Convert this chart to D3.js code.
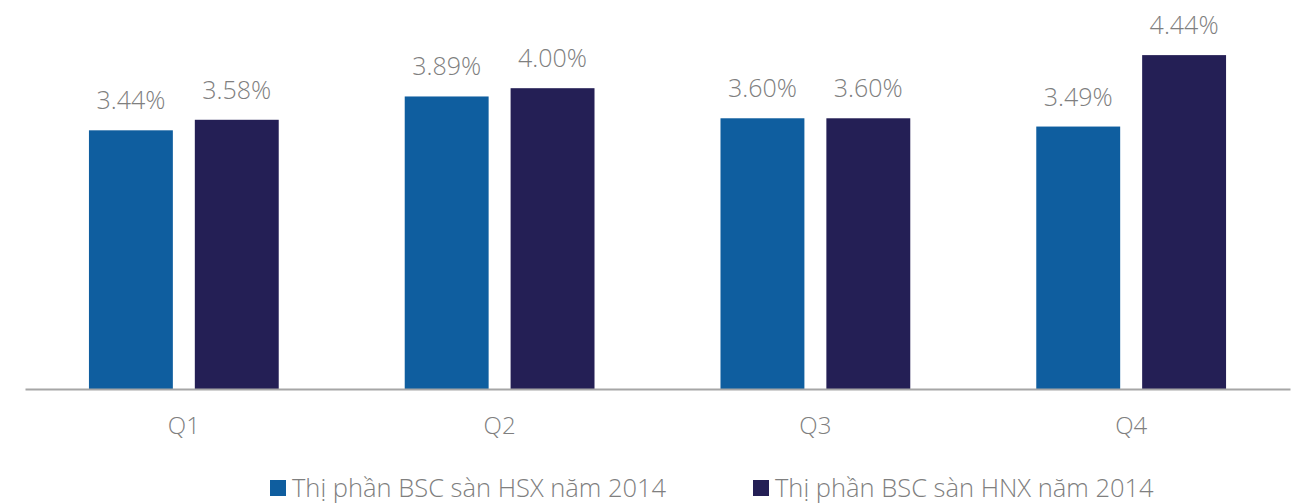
<!DOCTYPE html>
<html>
<head>
<meta charset="utf-8">
<script src="https://cdn.jsdelivr.net/npm/d3@7"></script>
<style>
  body { margin: 0; background: #fff; }
  text { font-family: "Open Sans", sans-serif; font-weight: 300; fill: #7f7f7f; }
</style>
</head>
<body>
<div id="chart"></div>
<script>
// Data
const quarters = ["Q1", "Q2", "Q3", "Q4"];
const seriesNames = ["Thị phần BSC sàn HSX năm 2014", "Thị phần BSC sàn HNX năm 2014"];
const hsxValues = [3.44, 3.89, 3.60, 3.49];
const hnxValues = [3.58, 4.00, 3.60, 4.44];
const colors = ["#0f5e9f", "#241f55"];

const width = 1303, height = 504;
const margin = {left: 25, right: 13, top: 13, bottom: 115};
const innerW = width - margin.left - margin.right;
const innerH = height - margin.top - margin.bottom;

const svg = d3.select("#chart")
    .append("svg")
    .attr("width", width)
    .attr("height", height)
    .append("g")
    .attr("transform", "translate(" + margin.left + "," + margin.top + ")");

//Scales: one band per quarter and an inner band per series
const x0 = d3.scaleBand().domain(quarters).range([0, innerW]).paddingInner(0.399).paddingOuter(0.2025);
const x1 = d3.scaleBand().domain([0, 1]).range([0, x0.bandwidth()]).paddingInner(0.2075);
const y = d3.scaleLinear().domain([0, 5]).range([innerH, 0]);

const rows = quarters.map((q, i) => ({q: q, vals: [hsxValues[i], hnxValues[i]]}));

const groups = svg.selectAll(".grp")
    .data(rows)
    .enter().append("g")
    .attr("transform", d => "translate(" + x0(d.q) + ",0)");

groups.selectAll("rect")
    .data(d => d.vals)
    .enter().append("rect")
    .attr("x", (d, i) => x1(i))
    .attr("y", d => y(d))
    .attr("width", x1.bandwidth())
    .attr("height", d => innerH - y(d))
    .attr("fill", (d, i) => colors[i]);

groups.selectAll(".lbl")
    .data(d => d.vals)
    .enter().append("text")
    .attr("class", "lbl")
    .attr("x", (d, i) => x1(i) + x1.bandwidth() / 2)
    .attr("y", d => y(d) - 21)
    .attr("text-anchor", "middle")
    .style("font-size", "25px")
    .text(d => d.toFixed(2) + "%");

//Baseline axis
const xAxis = svg.append("g")
    .attr("transform", "translate(0," + innerH + ")")
    .call(d3.axisBottom(x0).tickSize(0).tickPadding(28));
xAxis.select(".domain").attr("stroke", "#a6a6a6").attr("stroke-width", 2);
xAxis.selectAll("text")
    .style("font-size", "24px")
    .style("fill", "#7f7f7f")
    .style("font-family", "'Open Sans', sans-serif")
    .style("font-weight", 300);

//Legend
const legendX = [270, 753];
const legend = d3.select("svg").selectAll(".leg")
    .data(seriesNames)
    .enter().append("g")
    .attr("transform", (d, i) => "translate(" + legendX[i] + ",480)");
legend.append("rect").attr("width", 16).attr("height", 16).attr("fill", (d, i) => colors[i]);
legend.append("text")
    .attr("x", 22)
    .attr("y", 17)
    .style("font-size", "25.5px")
    .text(d => d);
</script>
</body>
</html>
